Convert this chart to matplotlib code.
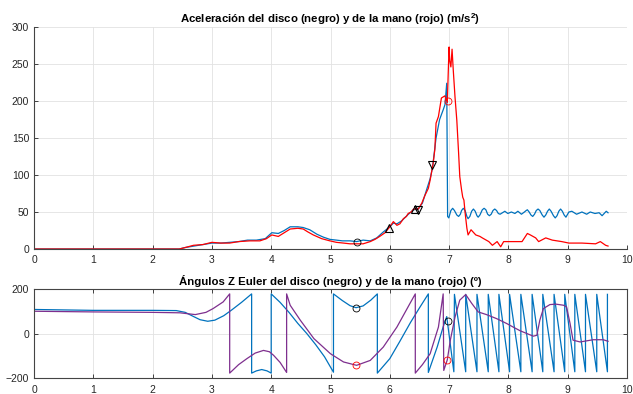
import matplotlib
matplotlib.use("Agg")
from matplotlib import pyplot as plt

plt.rcParams['font.family'] = ['Liberation Sans', 'DejaVu Sans']

# --- aceleracion (m/s^2) ---
mano_t = [0, 2.45, 2.55, 2.69, 2.85, 3.0, 3.15, 3.3, 3.45, 3.64, 3.81, 3.92, 4.01, 4.12, 4.22,
          4.32, 4.45, 4.54, 4.62, 4.71, 4.85, 4.99, 5.1, 5.22, 5.33, 5.44, 5.55, 5.67, 5.75,
          5.83, 5.92, 6.0, 6.06, 6.12, 6.17, 6.23, 6.28, 6.31, 6.36, 6.4, 6.48, 6.54, 6.59,
          6.65, 6.68, 6.73, 6.76, 6.78, 6.82, 6.87, 6.93, 6.97, 6.99, 7.0, 7.01, 7.03, 7.05,
          7.07, 7.1, 7.13, 7.16, 7.18, 7.21, 7.23, 7.25, 7.27, 7.3, 7.32, 7.37, 7.45, 7.52,
          7.56, 7.67, 7.73, 7.81, 7.87, 7.92, 8.0, 8.23, 8.32, 8.37, 8.46, 8.51, 8.63, 8.74,
          8.9, 9.02, 9.24, 9.47, 9.55, 9.64, 9.68]
mano_a = [0, 0, 2, 5, 6, 9, 8, 8, 10, 11, 11, 14, 19, 17, 22,
          27, 28, 27, 23, 19, 14, 11, 9, 8, 7, 7, 7, 10, 13,
          17, 22, 30, 37, 32, 34, 41, 44, 48, 50, 54, 54, 62, 72,
          82, 93, 115, 135, 170, 179, 204, 207, 198, 250, 273, 255, 246, 270,
          242, 205, 174, 130, 98, 80, 70, 66, 49, 28, 19, 26, 19, 17,
          15, 10, 5, 10, 3, 10, 10, 10, 21, 19, 15, 10, 15, 12,
          10, 8, 8, 7, 10, 5, 4]

disco_t = [0, 2.45, 2.55, 2.7, 2.85, 3.0, 3.15, 3.3, 3.45, 3.6, 3.75, 3.9, 4.01, 4.12, 4.22,
           4.32, 4.45, 4.54, 4.65, 4.77, 4.88, 4.99, 5.1, 5.2, 5.33, 5.44, 5.55, 5.67, 5.78,
           5.89, 6.0, 6.06, 6.12, 6.2, 6.3, 6.4, 6.48, 6.55, 6.62, 6.68, 6.72, 6.78, 6.84,
           6.9, 6.93, 6.96, 6.975, 6.995,
           7.03, 7.06, 7.09, 7.13, 7.16, 7.19, 7.21, 7.24, 7.27, 7.3, 7.32, 7.35, 7.38, 7.41,
           7.44, 7.47, 7.49, 7.52, 7.56, 7.59, 7.62, 7.65, 7.68, 7.71, 7.74, 7.77, 7.8, 7.83,
           7.86, 7.94, 7.99, 8.05, 8.11, 8.16, 8.22, 8.27, 8.3, 8.32, 8.35, 8.38, 8.41, 8.44,
           8.47, 8.5, 8.53, 8.57, 8.6, 8.63, 8.66, 8.69, 8.72, 8.76, 8.79, 8.82, 8.85, 8.88,
           8.91, 8.94, 8.97, 9.02, 9.07, 9.15, 9.24, 9.32, 9.38, 9.46, 9.53, 9.58, 9.65, 9.68]
disco_a = [0, 0, 2, 4, 6, 8, 8, 9, 10, 12, 12, 14, 22, 21, 25,
           30, 30, 29, 26, 20, 16, 13, 12, 11, 11, 10, 12, 11, 15,
           23, 30, 35, 34, 38, 46, 53, 54, 62, 80, 95, 110, 150, 175,
           188, 195, 224, 44, 42,
           52, 55, 52, 46, 44, 47, 52, 55, 52, 44, 41, 44, 51, 54,
           51, 45, 43, 46, 53, 55, 53, 47, 45, 47, 52, 54, 52, 48,
           47, 51, 48, 50, 48, 51, 47, 50, 52, 53, 50, 46, 44, 47,
           52, 54, 52, 46, 43, 46, 51, 54, 51, 45, 42, 45, 51, 54,
           51, 46, 43, 50, 51, 47, 50, 47, 50, 48, 49, 45, 51, 49]

# marcadores (acel.)
tri_up_t, tri_up_a = [5.99, 6.43], [29, 54]
tri_dn_t, tri_dn_a = [6.48, 6.72], [53, 113]
circ_k_acc = (5.44, 9)
circ_r_acc = (6.98, 200)

# --- angulos Z Euler (grados) ---
disco_ang_t = [0, 1, 2, 2.4, 2.55, 2.7, 2.8, 2.93, 3.05, 3.2, 3.33, 3.5, 3.67, 3.67, 3.75,
               3.84, 3.93, 4.0, 4.0, 4.15, 4.3, 4.45, 4.6, 4.75, 4.9, 5.05, 5.05, 5.2, 5.33,
               5.43, 5.55, 5.68, 5.79, 5.79, 6.0, 6.17, 6.35, 6.5, 6.65, 6.65, 6.8, 6.9, 6.96]
disco_ang = [108, 104, 104, 103, 95, 75, 62, 55, 60, 80, 105, 140, 178, -178, -168,
             -162, -168, -178, 178, 140, 95, 45, 0, -50, -105, -174, 178, 148, 125,
             116, 124, 150, 178, -178, -113, -35, 50, 115, 178, -175, -60, 30, 76]
# diente de sierra tras el lanzamiento: instantes donde el angulo salta de -180 a 180
saltos_t = [7.09, 7.28, 7.47, 7.66, 7.84, 8.02, 8.21, 8.40, 8.58, 8.77, 8.95, 9.12,
            9.30, 9.49, 9.67]

mano_ang_t = [0, 1, 2, 2.46, 2.72, 2.9, 3.02, 3.19, 3.3, 3.3, 3.45, 3.59, 3.73, 3.87, 3.97,
              4.04, 4.15, 4.26, 4.26, 4.32, 4.49, 4.72, 5.0, 5.22, 5.44, 5.67, 5.89, 6.12,
              6.34, 6.43, 6.43, 6.55, 6.68, 6.82, 6.9, 6.91, 6.97, 7.02, 7.1, 7.18, 7.28,
              7.38, 7.49, 7.63, 7.8, 7.97, 8.08, 8.2, 8.31, 8.42, 8.48, 8.53, 8.59, 8.7,
              8.8, 8.93, 8.98, 9.04, 9.09, 9.21, 9.43, 9.6, 9.68]
mano_ang = [100, 97, 95, 93, 85, 95, 112, 142, 178, -178, -140, -113, -88, -76, -82,
            -98, -130, -175, 178, 127, 60, -23, -91, -128, -143, -121, -61, 29,
            135, 178, -178, -140, -91, 29, 178, -166, -118, -31, 74, 150, 175,
            136, 97, 85, 67, 45, 29, 12, 0, -12, -8, 60, 112, 130,
            132, 127, 120, 45, -30, -38, -28, -28, -35]

circ_k_ang_t, circ_k_ang = [5.43, 6.98], [116, 58]
circ_r_ang_t, circ_r_ang = [5.43, 6.97], [-143, -118]

azul = '#0072BD'
morado = '#7E2F8E'
gris = '#262626'


def estilo(ax, caja):
    ax.set_xlim(0, 10)
    ax.set_xticks(range(0, 11))
    ax.grid(True, color='#e2e2e2', linewidth=0.6)
    ax.set_axisbelow(True)
    ax.tick_params(direction='in', length=3, width=0.6, color=gris,
                   labelsize=7.5, labelcolor=gris, pad=3.5,
                   top=caja, right=caja)
    for lado in ['left', 'bottom', 'top', 'right']:
        ax.spines[lado].set_color('#444444')
        ax.spines[lado].set_linewidth(0.8)
    if not caja:
        ax.spines['top'].set_visible(False)
        ax.spines['right'].set_visible(False)


fig = plt.figure(figsize=(6.33, 3.94), dpi=100)

ax1 = fig.add_axes([34 / 633, 145 / 394, 593 / 633, 222 / 394])
ax1.plot(disco_t, disco_a, color=azul, lw=0.9)
ax1.plot(mano_t, mano_a, color='red', lw=0.9)
ax1.plot(tri_up_t, tri_up_a, '^', mfc='none', mec='k', ms=6, mew=0.8)
ax1.plot(tri_dn_t, tri_dn_a, 'v', mfc='none', mec='k', ms=6, mew=0.8)
ax1.plot(*circ_k_acc, 'o', mfc='none', mec='k', ms=5, mew=0.6)
ax1.plot(*circ_r_acc, 'o', mfc='none', mec='red', ms=5, mew=0.6)
ax1.set_ylim(0, 300)
ax1.set_yticks(range(0, 301, 50))
estilo(ax1, False)
ax1.tick_params(axis='x', pad=4)
ax1.set_title("Aceleración del disco (negro) y de la mano (rojo) (m/s$^{\\mathregular{2}}$)",
              fontsize=8.2, fontweight='bold', pad=3)

# construir el diente de sierra con los saltos leidos
sierra_t, sierra_a = list(disco_ang_t), list(disco_ang)
sierra_t.append(saltos_t[0] - 0.01)
sierra_a.append(-172)
for i, s in enumerate(saltos_t):
    sierra_t.append(s)
    sierra_a.append(176)
    if i + 1 < len(saltos_t):
        sierra_t.append(saltos_t[i + 1])
        sierra_a.append(-172)

ax2 = fig.add_axes([34 / 633, 16 / 394, 593 / 633, 89 / 394])
ax2.plot(sierra_t, sierra_a, color=azul, lw=0.9)
ax2.plot(mano_ang_t, mano_ang, color=morado, lw=0.9)
ax2.plot(circ_k_ang_t, circ_k_ang, 'o', mfc='none', mec='k', ms=5, mew=0.6)
ax2.plot(circ_r_ang_t, circ_r_ang, 'o', mfc='none', mec='red', ms=5, mew=0.6)
ax2.set_ylim(-200, 200)
ax2.set_yticks([-200, 0, 200])
estilo(ax2, True)
ax2.tick_params(axis='x', pad=5)
ax2.set_title("Ángulos Z Euler del disco (negro) y de la mano (rojo) (º)",
              fontsize=8.2, fontweight='bold', pad=3)

fig.savefig("out.png", dpi=100)
